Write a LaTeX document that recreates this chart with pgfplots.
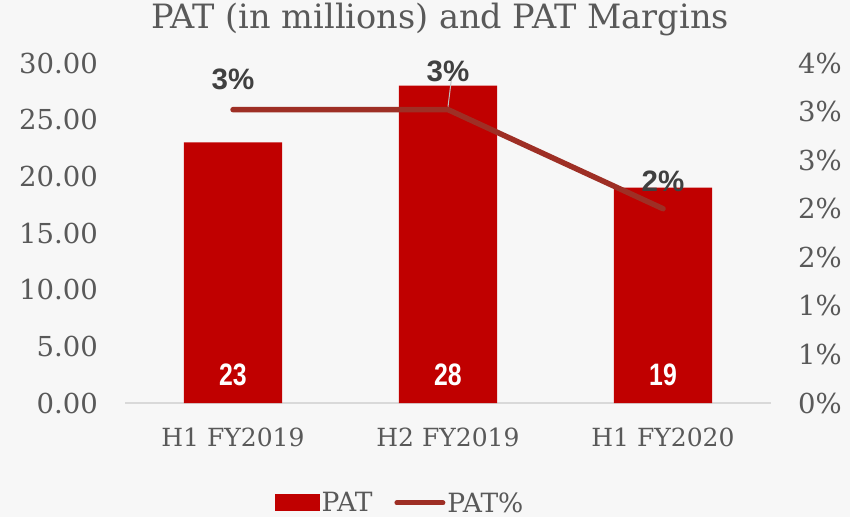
\documentclass[border=0pt]{standalone}
\usepackage{fontspec}
\setmainfont{DejaVu Serif}
\newfontfamily\lab{Liberation Sans}
\newfontfamily\labc[FakeStretch=0.8]{Liberation Sans}
\usepackage{pgfplots}
\pgfplotsset{compat=1.18}
\definecolor{barred}{HTML}{C00000}
\definecolor{linered}{HTML}{9E2F25}
\definecolor{txt}{HTML}{595959}
\definecolor{lblgray}{HTML}{404040}
\definecolor{bg}{HTML}{F7F7F7}
\definecolor{axgray}{HTML}{D9D9D9}
\begin{document}
\begin{tikzpicture}[x=1pt,y=1pt]
\fill[bg] (-125.5,-114) rectangle (724.5,403);
\useasboundingbox (-125.5,-114) rectangle (724.5,403);
\begin{axis}[
  at={(0,0)}, anchor=south west, scale only axis,
  width=645pt, height=340pt,
  xmin=-0.5, xmax=2.5, ymin=0, ymax=30,
  axis x line*=bottom, axis y line*=left,
  x axis line style={draw=axgray, line width=1.2pt, -},
  y axis line style={draw=none},
  major tick length=0pt,
  xtick={0,1,2},
  xticklabels={H1 FY2019,H2 FY2019,H1 FY2020},
  ytick={0,5,...,30},
  yticklabel={\pgfmathprintnumber[fixed,fixed zerofill,precision=2,assume math mode=true]{\tick}},
  yticklabel style={font=\fontsize{27.5}{32}\selectfont, text=txt, xshift=-24pt},
  xticklabel style={font=\fontsize{25}{30}\selectfont, text=txt, yshift=-21pt},
  title={PAT (in millions) and PAT Margins},
  title style={at={(axis description cs:0.4876,1)}, anchor=base, yshift=28pt, font=\fontsize{33.5}{40}\selectfont, text=txt},
  legend style={at={(axis description cs:0.4256,-0.294)}, anchor=center, draw=none, fill=none,
    font=\fontsize{26.5}{30}\selectfont, text=txt, legend columns=2,
    /tikz/every even column/.append style={column sep=20pt}},
]
\addplot[ybar, bar width=0.456, fill=barred, draw=none,
  legend image code/.code={\fill[barred] (0pt,-8.5pt) rectangle (45pt,8.5pt);}]
  coordinates {(0,23) (1,28) (2,19)};
\addlegendentry{PAT}
\addlegendimage{legend image code/.code={\draw[linered, line width=5pt, line cap=round] (0pt,0pt) -- (46pt,0pt);}}
\addlegendentry{PAT\%}
\addplot[draw=none, mark=none, forget plot, nodes near coords, point meta=explicit symbolic,
  nodes near coords style={anchor=center, text=white, font=\labc\bfseries\fontsize{31}{34}\selectfont}]
  table[meta=lbl] {
x y lbl
0 2.47 23
1 2.47 28
2 2.47 19
};
\end{axis}
\begin{axis}[
  at={(0,0)}, anchor=south west, scale only axis,
  width=645pt, height=340pt,
  xmin=-0.5, xmax=2.5, ymin=0, ymax=3.5,
  axis x line=none, axis y line*=right,
  y axis line style={draw=none},
  major tick length=0pt,
  ytick={0,0.5,...,3.5},
  yticklabels={0\%,1\%,1\%,2\%,2\%,3\%,3\%,4\%},
  yticklabel style={font=\fontsize{27.5}{32}\selectfont, text=txt, xshift=24pt},
]
\draw[gray!50, line width=1pt] (axis cs:1.015,3.32) -- (axis cs:1.0,3.05);
\addplot[linered, line width=5.5pt, line cap=round, line join=round, mark=none,
  nodes near coords={\pgfplotspointmeta\%}, point meta=explicit symbolic,
  visualization depends on={\thisrow{off}\as\off},
  every node near coord/.append style={anchor=center, yshift=\off, text=lblgray, font=\lab\bfseries\fontsize{29.5}{32}\selectfont}]
  table[meta=lbl] {
x y off lbl
0 3.02 30 3
1 3.02 38 3
2 2.0 27 2
};
\end{axis}
\end{tikzpicture}
\end{document}
